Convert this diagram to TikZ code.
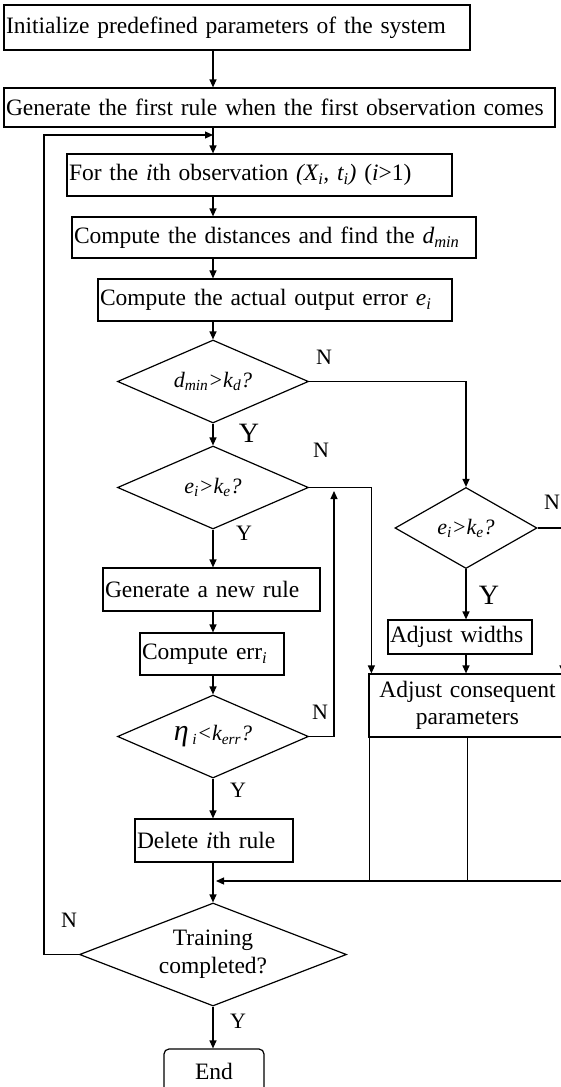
\documentclass[tikz,border=0pt]{standalone}
\usepackage{fontspec}
\setmainfont{Liberation Serif}
\usetikzlibrary{shapes.geometric,arrows.meta}

\begin{document}
\begin{tikzpicture}[x=1pt,y=-1pt,line width=1.2pt,>={Triangle[length=8pt,width=7pt]}]

\tikzset{
  procbox/.style={draw, inner xsep=2pt, inner ysep=0pt, align=left, font=\fontsize{23.5}{27}\selectfont},
  decide/.style={draw, diamond, aspect=2.2, inner sep=0pt, font=\fontsize{22}{27}\selectfont\itshape},
  yn/.style={font=\fontsize{22}{22}\selectfont},
  bigyn/.style={font=\fontsize{28}{28}\selectfont}
}

\useasboundingbox (0,0) rectangle (561,1087);
\clip (0,0) rectangle (561,1087);

\coordinate (ax) at (213,0);

% boxes of the main column
\node[procbox, text width=462, minimum height=45] (init) at (237,27.5) {Initialize predefined parameters of the system};
\node[procbox, text width=547, minimum height=39] (gen1) at (279.5,107.5) {\mbox{Generate the first rule when the first observation comes}};
\node[procbox, text width=381, minimum height=42] (obs) at (259.5,175) {For the \textit{i}th observation \textit{(X\textsubscript{i}, t\textsubscript{i})} (\textit{i}>1)};
\node[procbox, text width=400, minimum height=41] (dist) at (274,237.5) {\mbox{Compute the distances and find the \textit{d\textsubscript{min}}}};
\node[procbox, text width=350, minimum height=42] (err) at (275,300) {Compute the actual output error \textit{e\textsubscript{i}}};

% decisions
\node[decide, minimum width=191, minimum height=83] (d1) at (213,381.5) {d\textsubscript{min}>k\textsubscript{d}?};
\node[decide, minimum width=191, minimum height=83] (d2) at (213,487.5) {e\textsubscript{i}>k\textsubscript{e}?};
\node[decide, minimum width=142, minimum height=81] (d3) at (466,528) {e\textsubscript{i}>k\textsubscript{e}?};

\node[procbox, text width=213, minimum height=43] (newrule) at (211.5,589.5) {Generate a new rule};
\node[procbox, text width=140, minimum height=42] (comperr) at (212,654) {Compute err\textsubscript{\textit{i}}};
\node[decide, minimum width=191, minimum height=83] (d4) at (213,736.5) {{\fontsize{30}{30}\selectfont η}\,\textsubscript{i}<k\textsubscript{err}?};
\node[procbox, text width=154, minimum height=43] (delete) at (214,840.5) {Delete \textit{i}th rule};
\node[decide, minimum width=267, minimum height=103, align=center, font=\fontsize{23.5}{28}\selectfont] (d5) at (213,954.5) {Training\\completed?};
\node[procbox, rounded corners=5pt, align=center, minimum width=100, minimum height=44] (endbox) at (214,1071) {End};

% right column
\node[procbox, text width=140, minimum height=34] (widths) at (460,637) {Adjust widths};
\node[procbox, align=center, text width=193, minimum height=63] (conseq) at (467.5,705.5) {Adjust consequent\\parameters};

% labels
\node[yn] (n1) at (324,357) {N};
\node[bigyn] (y1) at (249,433) {Y};
\node[yn] (n2) at (321,450) {N};
\node[yn] (y2) at (244,533) {Y};
\node[yn] (n3) at (552,502) {N};
\node[bigyn] (y3) at (489,595) {Y};
\node[yn] (n4) at (320,712) {N};
\node[yn] (y4) at (238,790) {Y};
\node[yn] (n5) at (69,920) {N};
\node[yn] (y5) at (238,1021) {Y};

% main column
\foreach \a/\b in {init/gen1, gen1/obs, obs/dist, dist/err, err/d1, d1/d2, d2/newrule,
  newrule/comperr, comperr/d4, d4/delete, delete/d5, d5/endbox}
  \draw[->] (\a.south -| ax) -- (\b.north -| ax);

\coordinate (loop) at (44,135);
\draw[->] (d5.west) -| (loop) -- (loop -| ax);

% branches
\draw[->] (d1.east) -| (d3.north);
\draw[->] (d2.east) -| ([xshift=3pt]conseq.north west);
\coordinate (back) at (334,491);
\draw[->] (d4.east) -| (back);
\draw[->] (d3.south) -- (d3.south |- widths.north);
\draw[->] (widths.south -| d3.south) -- (conseq.north -| d3.south);
\coordinate (rside) at (563,528);
\draw[->] (d3.east) -- (rside) -- (rside |- conseq.north);

\coordinate (merge) at (563,881);
\draw ([xshift=1pt]conseq.south west) -- ([xshift=1pt]conseq.south west |- merge);
\draw (conseq.south) -- (conseq.south |- merge);
\draw (rside |- conseq.south) -- (merge);
\draw[->] (merge) -- ([xshift=3pt]merge -| ax);

\end{tikzpicture}
\end{document}
